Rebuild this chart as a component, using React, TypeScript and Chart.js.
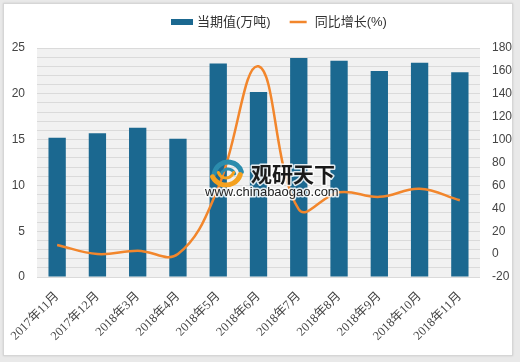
import React, { useEffect, useRef } from 'react';
import { Chart, registerables } from 'chart.js';

Chart.register(...registerables);

const categories = [
  '2017年11月', '2017年12月', '2018年3月', '2018年4月', '2018年5月', '2018年6月',
  '2018年7月', '2018年8月', '2018年9月', '2018年10月', '2018年11月',
];
const outputValues = [15.2, 15.7, 16.3, 15.1, 23.3, 20.2, 23.9, 23.6, 22.5, 23.4, 22.35];
const growthValues = [8, 0, 3, 0, 58, 164, 39, 54, 50, 57, 47];
const seriesNames = ['当期值(万吨)', '同比增长(%)'];
const watermarkTitle = '观研天下';
const watermarkUrl = 'www.chinabaogao.com';

const BAR_COLOR = '#1b6890';
const LINE_COLOR = '#f2862c';
const FONT = '"Liberation Sans", "Noto Sans CJK SC", sans-serif';
const SERIF = '"Liberation Serif", "Noto Sans CJK SC", serif';

const plotBgPlugin = {
  id: 'plotBg',
  beforeDraw(chart: any) {
    const { ctx, chartArea } = chart;
    ctx.save();
    ctx.fillStyle = '#f1f1f1';
    ctx.fillRect(chartArea.left, chartArea.top, chartArea.right - chartArea.left, chartArea.bottom - chartArea.top);
    ctx.restore();
  },
};

const legendPlugin = {
  id: 'customLegend',
  afterDraw(chart: any) {
    const ctx = chart.ctx;
    ctx.save();
    ctx.font = `13px ${FONT}`;
    ctx.textBaseline = 'middle';
    let x = 171;
    const y = 22;
    ctx.fillStyle = BAR_COLOR;
    ctx.fillRect(x, y - 3, 22, 6);
    x += 26;
    ctx.fillStyle = '#333';
    ctx.fillText(seriesNames[0], x, y);
    x += ctx.measureText(seriesNames[0]).width + 19;
    ctx.strokeStyle = LINE_COLOR;
    ctx.lineWidth = 2.5;
    ctx.beginPath();
    ctx.moveTo(x, y);
    ctx.lineTo(x + 17, y);
    ctx.stroke();
    x += 25;
    ctx.fillStyle = '#333';
    ctx.fillText(seriesNames[1], x, y);
    ctx.restore();
  },
};

const watermarkPlugin = {
  id: 'watermark',
  afterDatasetsDraw(chart: any) {
    const ctx = chart.ctx;
    ctx.save();
    ctx.lineCap = 'round';
    ctx.strokeStyle = '#2b8cad';
    ctx.lineWidth = 5;
    ctx.beginPath();
    ctx.arc(228, 176, 14, Math.PI * 1.05, Math.PI * 1.9);
    ctx.stroke();
    ctx.lineWidth = 3;
    ctx.beginPath();
    ctx.arc(228, 176, 7, Math.PI * 1.1, Math.PI * 1.9);
    ctx.stroke();
    ctx.strokeStyle = '#f4a11f';
    ctx.lineWidth = 5;
    ctx.beginPath();
    ctx.arc(226, 170, 15, Math.PI * 0.1, Math.PI * 0.85);
    ctx.stroke();
    ctx.lineWidth = 3;
    ctx.beginPath();
    ctx.arc(226, 170, 8, Math.PI * 0.1, Math.PI * 0.9);
    ctx.stroke();
    ctx.textBaseline = 'middle';
    ctx.lineJoin = 'round';
    ctx.font = `bold 21px "Noto Sans CJK SC", sans-serif`;
    ctx.strokeStyle = 'rgba(255,255,255,0.85)';
    ctx.lineWidth = 3;
    ctx.strokeText(watermarkTitle, 251, 174);
    ctx.fillStyle = '#1a1a1a';
    ctx.fillText(watermarkTitle, 251, 174);
    ctx.font = `13px ${FONT}`;
    ctx.strokeText(watermarkUrl, 205, 192);
    ctx.fillStyle = '#222';
    ctx.fillText(watermarkUrl, 205, 192);
    ctx.restore();
  },
};

export default function App() {
  const ref = useRef<HTMLCanvasElement>(null);
  useEffect(() => {
    if (!ref.current) return;
    Chart.defaults.font.family = FONT;
    const chart = new Chart(ref.current, {
      type: 'bar',
      data: {
        labels: categories,
        datasets: [
          {
            type: 'bar',
            label: seriesNames[0],
            data: outputValues,
            backgroundColor: BAR_COLOR,
            yAxisID: 'y',
            barPercentage: 0.43,
            categoryPercentage: 1,
            order: 1,
          },
          {
            type: 'line',
            label: seriesNames[1],
            data: growthValues,
            borderColor: LINE_COLOR,
            backgroundColor: LINE_COLOR,
            borderWidth: 2.5,
            pointRadius: 0,
            tension: 0.4,
            yAxisID: 'y1',
            order: 0,
          } as any,
        ],
      },
      options: {
        animation: false,
        responsive: false,
        maintainAspectRatio: false,
        layout: { padding: { top: 48, left: 0, right: 0, bottom: 0 } },
        plugins: {
          legend: { display: false },
          tooltip: { enabled: false },
        },
        scales: {
          x: {
            grid: { display: false },
            border: { display: false },
            ticks: {
              color: '#444',
              font: { size: 12.5, family: SERIF },
              maxRotation: 45,
              minRotation: 45,
              autoSkip: false,
              padding: 4,
            },
            afterFit(scale: any) { scale.height = 85; },
          },
          y: {
            position: 'left',
            min: 0,
            max: 25,
            grid: { color: '#dadada', drawTicks: false, lineWidth: 1 },
            border: { display: false },
            ticks: {
              stepSize: 1,
              autoSkip: false,
              color: '#444',
              font: { size: 12 },
              padding: 12,
              callback: (v: any) => (Number(v) % 5 === 0 ? String(v) : ''),
            },
            afterFit(scale: any) { scale.width = 37; },
          },
          y1: {
            position: 'right',
            min: -20,
            max: 180,
            grid: { display: false, drawTicks: false },
            border: { display: false },
            ticks: {
              stepSize: 20,
              color: '#444',
              font: { size: 12 },
              padding: 12,
            },
            afterFit(scale: any) { scale.width = 40; },
          },
        },
      },
      plugins: [plotBgPlugin, legendPlugin, watermarkPlugin],
    });
    return () => chart.destroy();
  }, []);

  return (
    <div style={{ position: 'fixed', left: 0, top: 0, width: 520, height: 362, background: '#e9e9e9' }}>
      <div
        style={{
          position: 'absolute', left: 3, top: 3, width: 508, height: 351,
          background: '#fff', border: '1px solid #d6d6d6', boxShadow: '0 0 2px rgba(0,0,0,0.12)',
        }}
      />
      <canvas ref={ref} width={520} height={362} style={{ position: 'absolute', left: 0, top: 0, width: 520, height: 362 }} />
    </div>
  );
}
